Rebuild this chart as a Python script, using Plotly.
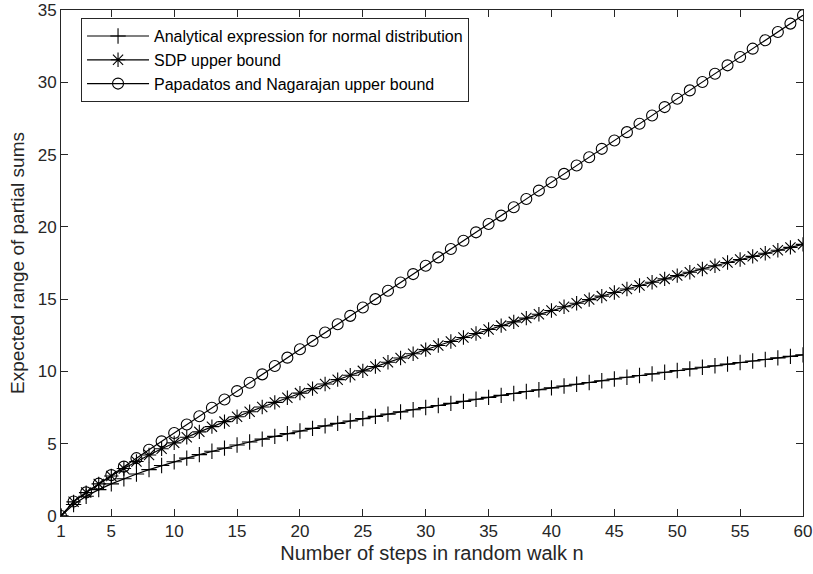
import plotly.graph_objects as go

# Number of steps n
steps = list(range(1, 61))

# Analytical expected range for normally distributed steps
analytical = [
    0.000, 0.798, 1.362, 1.823, 2.222, 2.579, 2.904, 3.206, 3.488, 3.754,
    4.006, 4.247, 4.477, 4.698, 4.912, 5.118, 5.317, 5.511, 5.699, 5.882,
    6.060, 6.234, 6.404, 6.571, 6.734, 6.893, 7.050, 7.203, 7.354, 7.502,
    7.648, 7.791, 7.932, 8.071, 8.208, 8.343, 8.476, 8.607, 8.736, 8.864,
    8.990, 9.115, 9.238, 9.360, 9.480, 9.599, 9.717, 9.833, 9.948, 10.062,
    10.175, 10.287, 10.397, 10.507, 10.615, 10.723, 10.829, 10.935, 11.040, 11.144,
]

# SDP upper bound
sdp_bound = [
    0.00, 0.98, 1.62, 2.22, 2.77, 3.29, 3.77, 4.22, 4.65, 5.06,
    5.45, 5.82, 6.18, 6.53, 6.87, 7.21, 7.54, 7.86, 8.18, 8.50,
    8.81, 9.13, 9.43, 9.74, 10.04, 10.34, 10.64, 10.93, 11.22, 11.51,
    11.79, 12.07, 12.35, 12.62, 12.90, 13.17, 13.43, 13.69, 13.95, 14.21,
    14.47, 14.72, 14.97, 15.21, 15.46, 15.70, 15.94, 16.17, 16.40, 16.63,
    16.86, 17.09, 17.31, 17.53, 17.74, 17.96, 18.17, 18.38, 18.58, 18.79,
]

# Papadatos and Nagarajan upper bound
pn_bound = [
    0.000, 1.000, 1.633, 2.236, 2.828, 3.416, 4.000, 4.583, 5.164, 5.745,
    6.325, 6.904, 7.483, 8.062, 8.641, 9.220, 9.798, 10.376, 10.954, 11.533,
    12.111, 12.689, 13.266, 13.844, 14.422, 15.000, 15.578, 16.155, 16.733, 17.311,
    17.889, 18.466, 19.044, 19.621, 20.199, 20.777, 21.354, 21.932, 22.509, 23.087,
    23.664, 24.242, 24.819, 25.397, 25.974, 26.552, 27.129, 27.707, 28.284, 28.862,
    29.439, 30.017, 30.594, 31.172, 31.749, 32.326, 32.904, 33.481, 34.059, 34.636,
]

x_ticks = [1, 5, 10, 15, 20, 25, 30, 35, 40, 45, 50, 55, 60]
y_ticks = [0, 5, 10, 15, 20, 25, 30, 35]

series = [
    ("Analytical expression for normal distribution", analytical, "cross-thin-open", 11),
    ("SDP upper bound", sdp_bound, "asterisk-open", 12),
    ("Papadatos and Nagarajan upper bound", pn_bound, "circle-open", 11),
]

fig = go.Figure()
for name, vals, sym, sz in series:
    fig.add_trace(go.Scatter(
        x=steps, y=vals, name=name, mode="lines+markers",
        line=dict(color="black", width=1.2),
        marker=dict(symbol=sym, size=sz, color="black",
                    line=dict(color="black", width=1.1)),
    ))

axis_color = "#262626"
font_family = "Liberation Sans, Arial, sans-serif"

fig.update_layout(
    width=813, height=574,
    margin=dict(l=61, r=10, t=10, b=58),
    paper_bgcolor="white", plot_bgcolor="white",
    font=dict(family=font_family, size=17, color=axis_color),
    showlegend=True,
    legend=dict(
        x=0.027, y=0.984, xanchor="left", yanchor="top",
        bgcolor="white", bordercolor=axis_color, borderwidth=1,
        font=dict(family=font_family, size=16, color="black"),
        tracegroupgap=0, itemwidth=62,
    ),
)

fig.update_xaxes(
    range=[1, 60], tickvals=x_ticks, ticktext=[str(v) for v in x_ticks],
    showgrid=False, zeroline=False, automargin=False,
    ticklabeloverflow="allow",
    showline=True, linecolor=axis_color, linewidth=1, mirror="ticks",
    ticks="inside", ticklen=7, tickcolor=axis_color,
    tickfont=dict(size=17, color=axis_color),
    title=dict(text="Number of steps in random walk n",
               font=dict(size=20, color=axis_color), standoff=5),
)
fig.update_yaxes(
    range=[0, 35], tickvals=y_ticks, ticktext=[str(v) for v in y_ticks],
    showgrid=False, zeroline=False, automargin=False,
    ticklabeloverflow="allow",
    showline=True, linecolor=axis_color, linewidth=1, mirror="ticks",
    ticks="inside", ticklen=7, tickcolor=axis_color,
    tickfont=dict(size=17, color=axis_color),
    title=dict(text="Expected range of partial sums",
               font=dict(size=19, color=axis_color), standoff=8),
)

fig.write_html("out.html")
